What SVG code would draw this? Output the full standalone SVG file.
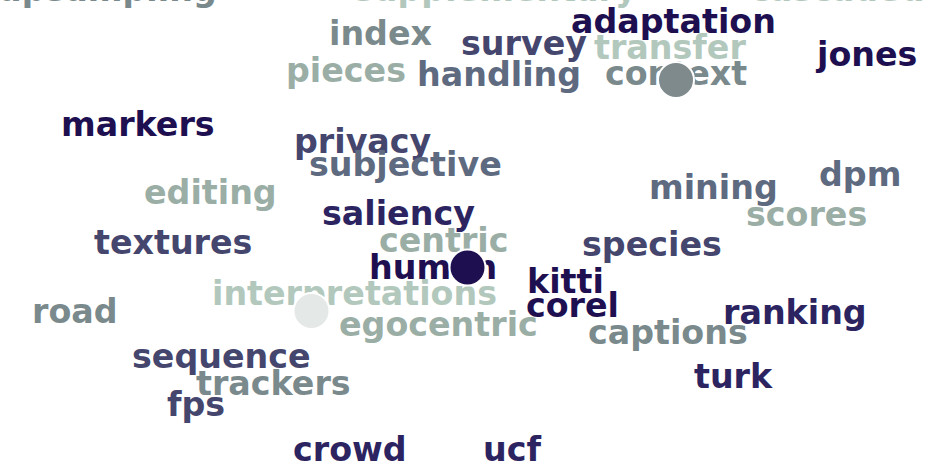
<svg xmlns="http://www.w3.org/2000/svg" width="927" height="468" viewBox="0 0 927 468">
<style>
text{font-family:"DejaVu Sans","Liberation Sans",sans-serif;font-weight:bold;font-size:33.3px}
.c1{fill:#1e0f50}.c2{fill:#2c2460}.c3{fill:#45466e}.c4{fill:#5e6a80}.c5{fill:#7a8a8c}.c6{fill:#9aaea6}.c7{fill:#b2c8bc}
.dot{stroke:#fff;stroke-width:2}
</style>
<rect width="927" height="468" fill="#fff"/>
<g id="words">
<text class="c5" x="-2" y="1">upsampling</text>
<text class="c7" x="354" y="1">supplementary</text>
<text class="c7" x="750" y="1">cascaded</text>
<text class="c5" x="329" y="45">index</text>
<text class="c1" x="571" y="33">adaptation</text>
<text class="c3" x="461" y="55">survey</text>
<text class="c7" x="594" y="59">transfer</text>
<text class="c1" x="817" y="66">jones</text>
<text class="c6" x="286" y="82">pieces</text>
<text class="c4" x="417" y="86">handling</text>
<text class="c5" x="605" y="85">context</text>
<text class="c1" x="61" y="136">markers</text>
<text class="c3" x="294" y="153">privacy</text>
<text class="c4" x="309" y="176">subjective</text>
<text class="c6" x="144" y="204">editing</text>
<text class="c4" x="649" y="199">mining</text>
<text class="c4" x="819" y="186">dpm</text>
<text class="c6" x="746" y="226">scores</text>
<text class="c2" x="322" y="225">saliency</text>
<text class="c3" x="94" y="254">textures</text>
<text class="c6" x="379" y="252">centric</text>
<text class="c3" x="582" y="256">species</text>
<text class="c1" x="369" y="279">human</text>
<text class="c1" x="527" y="293">kitti</text>
<text class="c7" x="212" y="305">interpretations</text>
<text class="c1" x="526" y="317">corel</text>
<text class="c5" x="32" y="323">road</text>
<text class="c6" x="339" y="336">egocentric</text>
<text class="c5" x="588" y="344">captions</text>
<text class="c2" x="723" y="324">ranking</text>
<text class="c3" x="132" y="368">sequence</text>
<text class="c5" x="196" y="395">trackers</text>
<text class="c3" x="167" y="416">fps</text>
<text class="c2" x="694" y="388">turk</text>
<text class="c2" x="293" y="461">crowd</text>
<text class="c2" x="483" y="461">ucf</text>
</g>
<g id="nodes">
<g id="n-context"><circle class="dot" cx="676" cy="80" r="18" fill="#7e8a8c"/></g>
<g id="n-human"><circle class="dot" cx="467.5" cy="267.5" r="18" fill="#1e0f50"/></g>
<g id="n-interpretations"><circle class="dot" cx="311.5" cy="311" r="18" fill="#e4e8e6"/></g>
</g>
<g id="connectors"></g>
</svg>
